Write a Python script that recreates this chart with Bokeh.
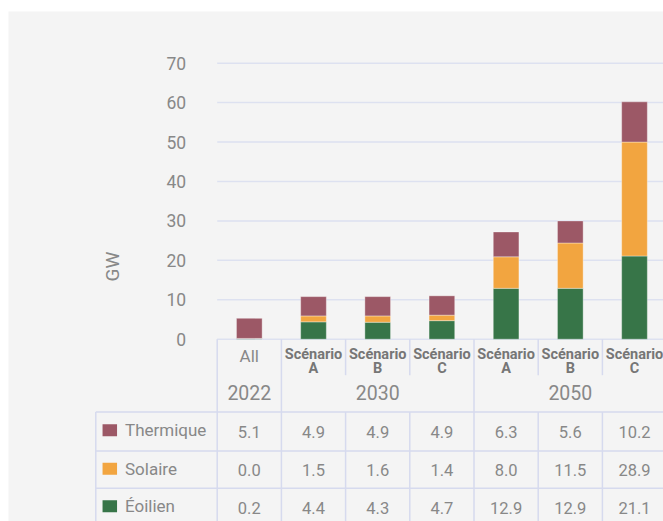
from bokeh.plotting import figure
from bokeh.models import Range1d, FixedTicker, ColumnDataSource
from bokeh.embed import file_html
from bokeh.resources import INLINE
from bokeh.core.properties import value

# ---------------- data ----------------
groups = ["2022", "2030", "2030", "2030", "2050", "2050", "2050"]
scenarios = ["All", "Scénario A", "Scénario B", "Scénario C",
             "Scénario A", "Scénario B", "Scénario C"]
series = ["Thermique", "Solaire", "Éoilien"]
thermique = [5.1, 4.9, 4.9, 4.9, 6.3, 5.6, 10.2]
solaire = [0.0, 1.5, 1.6, 1.4, 8.0, 11.5, 28.9]
eolien = [0.2, 4.4, 4.3, 4.7, 12.9, 12.9, 21.1]
y_ticks = [0, 10, 20, 30, 40, 50, 60, 70]
series_colors = ["#9c5866", "#f2a540", "#377548"]

# ---------------- style / layout ----------------
FONT = "Roboto"
BG = "#f4f4f4"
GRID = "#dde1f0"
LINE = "#d6daee"
TXT = "#888888"
TXT_DARK = "#767676"

FIG_W, FIG_H = 663, 521
FRAME_L, FRAME_T = 8, 11
COLW = 64.2                 # px per category
PXU = 3.943                 # px per GW
COL0_LEFT = 216.7           # page x of first category's left edge
ZERO_Y = 338.7              # page y of the 0 line

x_start = -0.5 - (COL0_LEFT - FRAME_L) / COLW
x_end = x_start + (FIG_W - FRAME_L) / COLW
y_end = (ZERO_Y - FRAME_T) / PXU
y_start = -(FIG_H - ZERO_Y) / PXU


def dx(page_x):
    return x_start + (page_x - FRAME_L) / COLW


def dy(offset_below_axis):
    return -offset_below_axis / PXU


xs = list(range(len(scenarios)))
n = len(scenarios)

p = figure(width=FIG_W, height=FIG_H,
           x_range=Range1d(x_start, x_end), y_range=Range1d(y_start, y_end),
           output_backend="svg", toolbar_location=None,
           x_axis_location=None,
           min_border_left=FRAME_L, min_border_right=0,
           min_border_top=FRAME_T, min_border_bottom=0)
p.background_fill_color = BG
p.border_fill_color = "white"
p.outline_line_color = None
p.grid.visible = False

# y axis placed at the first category's left edge
yax = p.yaxis[0]
yax.fixed_location = -0.5
yax.ticker = FixedTicker(ticks=y_ticks)
yax.axis_label = "GW"
yax.axis_line_color = None
yax.major_tick_line_color = None
yax.minor_tick_line_color = None
yax.major_tick_out = 0
yax.major_tick_in = 0
yax.minor_tick_out = 0
yax.minor_tick_in = 0
yax.major_label_standoff = 31
yax.major_label_text_font = FONT
yax.major_label_text_font_size = "17.5px"
yax.major_label_text_color = TXT
yax.axis_label_text_font = FONT
yax.axis_label_text_font_size = "19px"
yax.axis_label_text_font_style = "normal"
yax.axis_label_text_color = TXT
yax.axis_label_standoff = 40

# horizontal grid lines (from the first category to the right)
p.segment(x0=[-0.5] * len(y_ticks), y0=y_ticks, x1=[x_end] * len(y_ticks), y1=y_ticks,
          line_color=GRID, line_width=1.5)

# stacked bars
src = ColumnDataSource(dict(x=xs, thermique=thermique, solaire=solaire, eolien=eolien))
p.vbar_stack(["eolien", "solaire", "thermique"], x="x", width=0.4, source=src,
             fill_color=[series_colors[2], series_colors[1], series_colors[0]],
             line_color="white", line_alpha=0.35, line_width=1)

# ---------------- categories + data table below the axis ----------------
BOTTOM = FIG_H - ZERO_Y
CAT_BOTTOM = 36
TBL_TOP = 72.8
row_lines = [72.8, 111.8, 149.0]
row_centers = [92.5, 131, 168.5]
x_tbl_left = dx(95.3)

# column separators
for k in range(n + 1):
    b = k - 0.5
    is_group_edge = k == 0 or k == n or groups[k] != groups[k - 1]
    if is_group_edge:
        p.segment(x0=[b], y0=[0], x1=[b], y1=[dy(BOTTOM)], line_color=LINE, line_width=1.5)
    else:
        p.segment(x0=[b, b], y0=[0, dy(TBL_TOP)], x1=[b, b], y1=[dy(CAT_BOTTOM), dy(BOTTOM)],
                  line_color=LINE, line_width=1.5)

# table horizontal lines + left border
for yl in row_lines:
    p.segment(x0=[x_tbl_left], y0=[dy(yl)], x1=[x_end], y1=[dy(yl)], line_color=LINE, line_width=1.5)
p.segment(x0=[x_tbl_left], y0=[dy(TBL_TOP)], x1=[x_tbl_left], y1=[dy(BOTTOM)],
          line_color=LINE, line_width=1.5)

# category labels
single_x = [x for x, s in zip(xs, scenarios) if " " not in s]
single_t = [s for s in scenarios if " " not in s]
multi_x = [x for x, s in zip(xs, scenarios) if " " in s]
multi_t = [s.replace(" ", "\n") for s in scenarios if " " in s]
p.text(x=single_x, y=[dy(16.5)] * len(single_x), text=single_t,
       text_font=value(FONT), text_font_size="17px", text_color=TXT,
       text_align="center", text_baseline="middle")
p.text(x=multi_x, y=[dy(6.3)] * len(multi_x), text=multi_t,
       text_font=value(FONT), text_font_size="14.5px", text_font_style="bold",
       text_color=TXT_DARK, text_align="center", text_baseline="top",
       text_line_height=0.88)

# group labels
uniq = []
for g in groups:
    if g not in uniq:
        uniq.append(g)
gx = [sum(i for i, gg in enumerate(groups) if gg == g) / groups.count(g) for g in uniq]
p.text(x=gx, y=[dy(53.5)] * len(uniq), text=uniq,
       text_font=value(FONT), text_font_size="19.5px", text_color=TXT,
       text_align="center", text_baseline="middle")

# legend swatches + series names
p.rect(x=[dx(109.3)] * 3, y=[dy(c - 1.5) for c in row_centers], width=14.5, height=12,
       width_units="screen", height_units="screen",
       fill_color=series_colors, line_color=None)
p.text(x=[dx(124.5)] * 3, y=[dy(c - 1.5) for c in row_centers], text=series,
       text_font=value(FONT), text_font_size="17px", text_color=TXT,
       text_align="left", text_baseline="middle")

# values
for vals, yc in zip([thermique, solaire, eolien], row_centers):
    p.text(x=xs, y=[dy(yc)] * n, text=[f"{v:.1f}" for v in vals],
           text_font=value(FONT), text_font_size="16.5px", text_color=TXT,
           text_align="center", text_baseline="middle")

open("out.html", "w").write(file_html(p, INLINE))
